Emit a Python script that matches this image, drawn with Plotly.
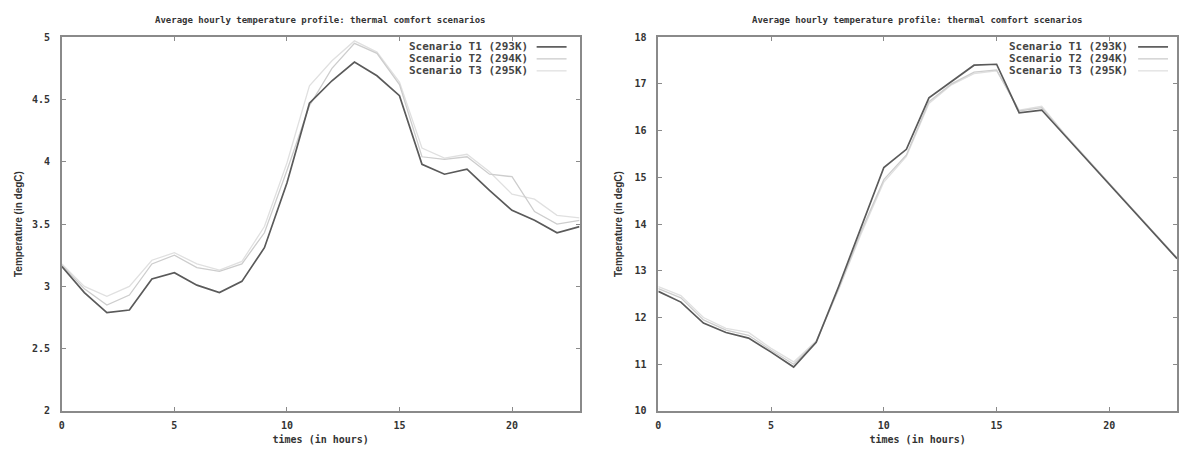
import plotly.graph_objects as go

hours = list(range(24))

# Left panel
left_t1 = [3.16, 2.95, 2.79, 2.81, 3.06, 3.11, 3.01, 2.95, 3.04, 3.31, 3.83, 4.47,
           4.65, 4.80, 4.69, 4.53, 3.98, 3.90, 3.94, 3.77, 3.61, 3.53, 3.43, 3.48]
left_t2 = [3.17, 2.98, 2.85, 2.93, 3.18, 3.25, 3.15, 3.12, 3.18, 3.43, 3.93, 4.45,
           4.75, 4.95, 4.87, 4.62, 4.04, 4.02, 4.04, 3.90, 3.88, 3.60, 3.50, 3.53]
left_t3 = [3.18, 3.00, 2.92, 3.00, 3.21, 3.27, 3.18, 3.13, 3.20, 3.48, 3.99, 4.61,
           4.81, 4.97, 4.88, 4.64, 4.11, 4.03, 4.06, 3.92, 3.74, 3.70, 3.57, 3.55]

# Right panel
right_t1 = [12.56, 12.33, 11.88, 11.68, 11.56, 11.26, 10.94, 11.47, 12.67, 13.94, 15.21, 15.60,
            16.70, 17.05, 17.40, 17.42, 16.38, 16.44, 15.91, 15.38, 14.85, 14.32, 13.79, 13.26]
right_t2 = [12.62, 12.42, 11.95, 11.73, 11.62, 11.30, 11.00, 11.48, 12.62, 13.85, 14.95, 15.48,
            16.62, 17.00, 17.25, 17.30, 16.42, 16.49, 15.93, 15.39, 14.86, 14.33, 13.80, 13.27]
right_t3 = [12.66, 12.47, 12.00, 11.77, 11.68, 11.34, 11.05, 11.50, 12.60, 13.80, 14.90, 15.45,
            16.58, 16.98, 17.22, 17.28, 16.44, 16.52, 15.94, 15.40, 14.87, 14.34, 13.81, 13.28]

series_names = ["Scenario T1 (293K)", "Scenario T2 (294K)", "Scenario T3 (295K)"]
title_text = "Average hourly temperature profile: thermal comfort scenarios"
xlabel = "times (in hours)"
ylabel = "Temperature (in degC)"
x_ticks = [0, 5, 10, 15, 20]
left_yticks = [2, 2.5, 3, 3.5, 4, 4.5, 5]
right_yticks = [10, 11, 12, 13, 14, 15, 16, 17, 18]

colors = ["#5a5a5a", "#cdcdcd", "#e0e0e0"]
widths = [1.7, 1.3, 1.3]

W, H = 1182, 453
mono = "DejaVu Sans Mono"
sans = "Liberation Sans"
txt = "#333333"
axcol = "#8a8a8a"

fig = go.Figure()
for data, xa, ya in [((left_t1, left_t2, left_t3), "x", "y"),
                     ((right_t1, right_t2, right_t3), "x2", "y2")]:
    # draw light lines first, dark on top
    for i in [2, 1, 0]:
        fig.add_trace(go.Scatter(x=hours, y=data[i], mode="lines", name=series_names[i],
                                 line=dict(color=colors[i], width=widths[i]),
                                 xaxis=xa, yaxis=ya, showlegend=False))

def px_x(p):
    return p / W

def px_y(p):
    return 1 - p / H

axis_common = dict(showline=True, linecolor=axcol, linewidth=1.5, mirror="ticks",
                   ticks="inside", ticklen=4, tickcolor=axcol, tickwidth=1,
                   showgrid=False, zeroline=False,
                   tickfont=dict(family=mono, size=10, color=txt, weight="bold"))

TOP, BOT = 32, 416

fig.update_layout(
    width=W, height=H,
    margin=dict(l=0, r=0, t=0, b=0),
    paper_bgcolor="white", plot_bgcolor="white",
    showlegend=False,
    xaxis=dict(domain=[px_x(59), px_x(578)], range=[0, 23], tickvals=x_ticks,
               anchor="y", ticklabelstandoff=4,
               title=dict(text="<b>" + xlabel + "</b>", standoff=6,
                          font=dict(family=mono, size=10, color=txt)),
               **axis_common),
    yaxis=dict(domain=[px_y(BOT), px_y(TOP)], range=[2, 5], tickvals=left_yticks,
               ticktext=[f"{v:g}" for v in left_yticks], anchor="x",
               ticklabelstandoff=8,
               title=dict(text="<b>" + ylabel + "</b>", standoff=8,
                          font=dict(family=sans, size=10, color=txt)),
               **axis_common),
    xaxis2=dict(domain=[px_x(657), px_x(1177)], range=[0, 23], tickvals=x_ticks,
                anchor="y2", ticklabelstandoff=4,
                title=dict(text="<b>" + xlabel + "</b>", standoff=6,
                           font=dict(family=mono, size=10, color=txt)),
                **axis_common),
    yaxis2=dict(domain=[px_y(BOT), px_y(TOP)], range=[10, 18], tickvals=right_yticks,
                anchor="x2", ticklabelstandoff=8,
                title=dict(text="<b>" + ylabel + "</b>", standoff=10,
                           font=dict(family=sans, size=10, color=txt)),
                **axis_common),
)

# titles
for cx in [(59 + 578) / 2, (657 + 1177) / 2]:
    fig.add_annotation(x=px_x(cx), y=px_y(14.5), xref="paper", yref="paper",
                       text="<b>" + title_text + "</b>", showarrow=False,
                       font=dict(family=mono, size=9, color=txt),
                       xanchor="center", yanchor="middle")

# legends (text then line sample, gnuplot style)
for text_end, line_start, line_end in [(528, 535, 565), (1130, 1138, 1168)]:
    for i, ry in enumerate([42, 54.3, 66.6]):
        fig.add_annotation(x=px_x(text_end), y=px_y(ry), xref="paper", yref="paper",
                           text="<b>" + series_names[i] + "</b>", showarrow=False,
                           font=dict(family=mono, size=11, color="#444444"),
                           xanchor="right", yanchor="middle")
        fig.add_shape(type="line", xref="paper", yref="paper",
                      x0=px_x(line_start), x1=px_x(line_end), y0=px_y(ry), y1=px_y(ry),
                      line=dict(color=colors[i], width=widths[i]))

fig.write_html("out.html", config={"displayModeBar": False},
               post_script="document.body.style.margin='0';document.body.style.overflow='hidden';")
